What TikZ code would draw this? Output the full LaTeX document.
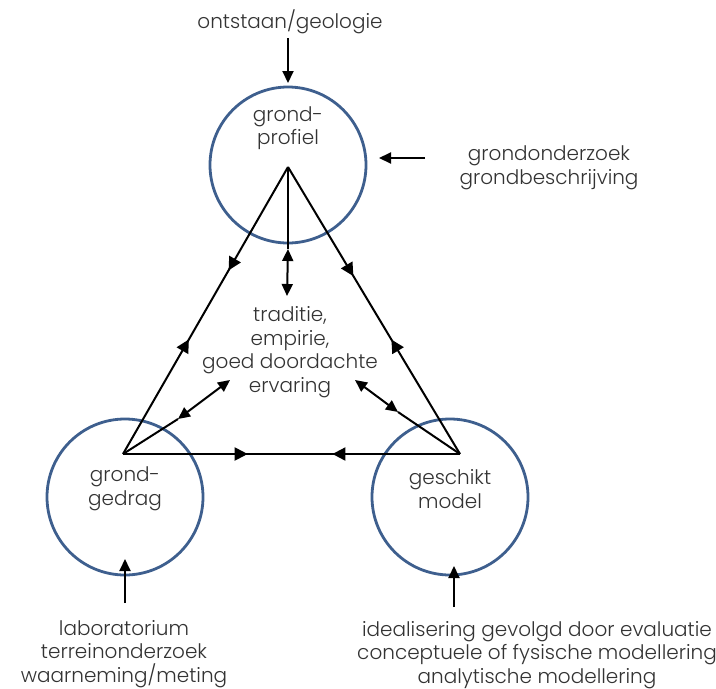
\documentclass[tikz,border=0pt]{standalone}
\usepackage{fontspec}
\setmainfont{Poppins}[UprightFont=* Light]
\usetikzlibrary{arrows.meta,decorations.markings}
\definecolor{circblue}{HTML}{3E5F8E}
\definecolor{txt}{HTML}{333333}
\tikzset{
  ring/.style={draw=circblue,line width=2.8pt,circle,minimum size=156pt,inner sep=0pt},
  lbl/.style={text=txt,align=center,font=\fontsize{20}{23.5}\selectfont,inner sep=0pt},
  conn/.style={line width=2pt,black},
  tip/.style={-{Triangle[length=12pt,width=11pt]}},
  dtip/.style={{Triangle[length=12pt,width=11pt]}-{Triangle[length=12pt,width=11pt]}},
  twoway/.style args={#1 and #2}{conn,postaction={decorate},decoration={markings,
    mark=at position #1 with {\arrow{Triangle[length=13pt,width=13pt]}},
    mark=at position #2 with {\arrow{Triangle[reversed,length=13pt,width=13pt]}}}}
}
\begin{document}
\begin{tikzpicture}[x=1pt,y=-1pt]
\useasboundingbox (0,0) rectangle (716,689);
% circles
\node[ring] (ctop) at (288,165) {};
\node[ring] (cbl) at (125,497) {};
\node[ring] (cbr) at (450,497) {};
% triangle vertices
\coordinate (T) at (288,167);
\coordinate (BL) at (123,454);
\coordinate (BR) at (460,454);
% edges
\draw[twoway=0.36 and 0.64] (T) -- (BL);
\draw[twoway=0.38 and 0.64] (T) -- (BR);
\draw[twoway=0.37 and 0.66] (BL) -- (BR);
% inner connectors
\coordinate (v1) at (288,249);
\coordinate (v2) at (287,296);
\draw[conn] (T) -- (v1);
\draw[conn,dtip] (v1) -- (v2);
\coordinate (l1) at (178,419);
\coordinate (l2) at (230,380);
\draw[conn] (BL) -- (l1);
\draw[conn,dtip] (l1) -- (l2);
\coordinate (r1) at (355,380);
\coordinate (r2) at (398,412);
\draw[conn,dtip] (r1) -- (r2);
\draw[conn] (r2) -- (BR);
% texts
\node[lbl] (ctext) at (290,352) {traditie,\\empirie,\\goed doordachte\\ervaring};
\node[lbl] (tgp) at (288,128) {grond-\\profiel};
\node[lbl] (tgg) at (125,489) {grond-\\gedrag};
\node[lbl] (tgm) at (450,489) {geschikt\\model};
\node[lbl] (geo) at (290,22) {ontstaan/geologie};
\node[lbl] (ond) at (549,168) {grondonderzoek\\grondbeschrijving};
\node[lbl] (lab) at (124,654) {laboratorium\\terreinonderzoek\\waarneming/meting};
\node[lbl] (ide) at (537,655) {idealisering gevolgd door evaluatie\\conceptuele of fysische modellering\\analytische modellering};
% outer arrows
\coordinate (g1) at (288,38);
\coordinate (g2) at (288,83);
\draw[conn,tip] (g1) -- (g2);
\coordinate (o1) at (425,158);
\coordinate (o2) at (379,158);
\draw[conn,tip] (o1) -- (o2);
\coordinate (b1) at (125,603);
\coordinate (b2) at (125,559);
\draw[conn,tip] (b1) -- (b2);
\coordinate (c1) at (454,607);
\coordinate (c2) at (454,566);
\draw[conn,tip] (c1) -- (c2);
\end{tikzpicture}
\end{document}
